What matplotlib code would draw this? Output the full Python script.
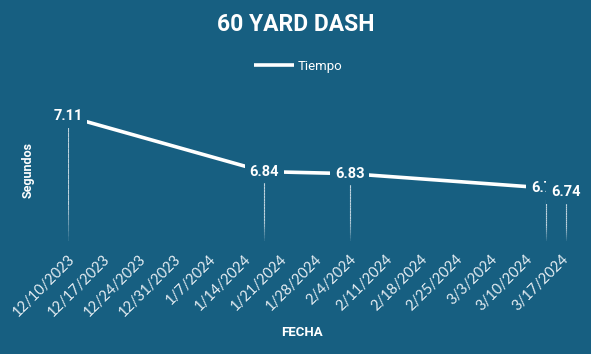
import matplotlib
matplotlib.use("Agg")
import matplotlib.pyplot as plt
import numpy as np
import pandas as pd

# data
fechas = ["2023-12-10", "2024-01-18", "2024-02-04", "2024-03-14", "2024-03-18"]
tiempos = [7.11, 6.84, 6.83, 6.76, 6.74]
etiquetas = ["7.11", "6.84", "6.83", "6.76", "6.74"]

bg = "#175f81"
fechas = pd.to_datetime(fechas)

fig = plt.figure(figsize=(5.91, 3.54), dpi=100, facecolor=bg)
ax = fig.add_axes([0.115, 0.319, 0.8596, 0.404], facecolor=bg)

ax.plot(fechas, tiempos, color="white", lw=2.6, solid_capstyle="butt", label="Tiempo", zorder=2)

# drop lines fading towards the bottom
for f, t in zip(fechas, tiempos):
    ys = np.linspace(6.5, t, 25)
    for i in range(len(ys) - 1):
        a = 0.85 * min(1.0, (i + 1) / 8)
        ax.plot([f, f], [ys[i], ys[i + 1]], color="#dde7ee", lw=0.8, alpha=a,
                solid_capstyle="butt", zorder=1)

for f, t, s in zip(fechas, tiempos, etiquetas):
    ax.text(f, t, s, color="white", fontsize=10.5, fontweight="bold", family="Roboto",
            ha="center", va="center", zorder=3,
            bbox=dict(facecolor=bg, edgecolor="none", pad=3.5))

ax.set_ylim(6.5, 7.2)
ax.set_xlim(pd.Timestamp("2023-12-10"), pd.Timestamp("2024-03-20"))
ticks = pd.date_range("2023-12-10", "2024-03-17", freq="7D")
ax.set_xticks(ticks)
ax.set_xticklabels([f"{d.month}/{d.day}/{d.year}" for d in ticks],
                   rotation=45, ha="right", rotation_mode="anchor",
                   color="#e6eef3", fontsize=10.5, family="Lato")
ax.tick_params(axis="x", length=0, pad=8)
ax.set_yticks([])
for sp in ax.spines.values():
    sp.set_visible(False)

fig.text(0.5, 0.93, "60 YARD DASH", color="white", fontsize=16.5, fontweight="bold",
         family="Roboto", ha="center", va="center")
fig.text(0.048, 0.52, "Segundos", color="white", fontsize=9, fontweight="bold",
         family="Roboto", rotation=90, ha="center", va="center")
fig.text(0.511, 0.062, "FECHA", color="white", fontsize=9.5, fontweight="bold",
         family="Roboto", ha="center", va="center")

leg = fig.legend(loc="center", bbox_to_anchor=(0.505, 0.813), frameon=False,
                 handlelength=3.0, handletextpad=0.3,
                 prop={"family": "Roboto", "size": 9.5})
for t in leg.get_texts():
    t.set_color("white")

fig.savefig("out.png", dpi=100, facecolor=bg)
